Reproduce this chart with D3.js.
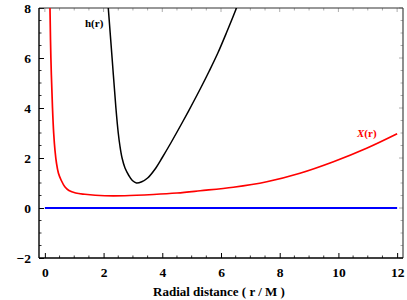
<!DOCTYPE html>
<html>
<head>
<meta charset="utf-8">
<script src="https://cdn.jsdelivr.net/npm/d3@7/dist/d3.min.js"></script>
<style>
  body { margin: 0; background: #fff; }
  svg { display: block; }
</style>
</head>
<body>
<svg></svg>
<script>
// X(r)
var chiR = [0.168, 0.174, 0.205, 0.26, 0.30, 0.345, 0.395, 0.46, 0.56, 0.68, 0.82, 1.05, 1.36, 2.04, 2.72, 3.7, 4.5, 5.29, 6.42, 7.56, 8.69, 9.83, 10.96, 12];
var chiV = [8.4, 8.0, 6.0, 4.0, 3.0, 2.3, 1.8, 1.4, 1.1, 0.85, 0.7, 0.6, 0.55, 0.49, 0.49, 0.54, 0.6, 0.69, 0.83, 1.05, 1.39, 1.85, 2.39, 2.97];

// h(r)
var hR = [2.135, 2.16, 2.29, 2.42, 2.50, 2.555, 2.63, 2.73, 2.86, 2.98, 3.12, 3.3, 3.5, 3.75, 4.0, 4.3, 4.7, 5.0, 5.3, 5.6, 5.9, 6.2, 6.5, 6.6];
var hV = [8.4, 8.0, 6.0, 4.0, 3.0, 2.5, 2.0, 1.6, 1.3, 1.1, 1.0, 1.05, 1.2, 1.55, 2.02, 2.62, 3.46, 4.11, 4.78, 5.48, 6.22, 7.05, 7.92, 8.25];

// zero line
var zeroR = [0, 12];
var zeroV = [0, 0];

var xTicks = [0, 2, 4, 6, 8, 10, 12];
var yTicks = [-2, 0, 2, 4, 6, 8];

var width = 407,
    height = 300;

var serif = '"Liberation Serif", "Times New Roman", "DejaVu Serif", serif';

var pLeft = 39, pRight = 403, pTop = 8, pBottom = 258;

var x = d3.scaleLinear().domain([-0.2, 12.2]).range([pLeft, pRight]);
var y = d3.scaleLinear().domain([-2, 8]).range([pBottom, pTop]);

var svg = d3.select('svg')
    .attr('width', width)
    .attr('height', height);

svg.append('defs').append('clipPath')
    .attr('id', 'clip')
    .append('rect')
    .attr('x', pLeft).attr('y', pTop)
    .attr('width', pRight - pLeft).attr('height', pBottom - pTop);

var minorX = d3.range(0, 12.01, 0.5).filter(function (d) { return d % 2 !== 0; });
var minorY = d3.range(-1.5, 8, 0.5).filter(function (d) { return d % 2 !== 0; });

var frame = svg.append('g');

// bottom & left axes, ticks inward
var xAxis = d3.axisBottom(x).tickValues(xTicks).tickSize(-5).tickPadding(9).tickFormat(d3.format('d'));
var yAxis = d3.axisLeft(y).tickValues(yTicks).tickSize(-5).tickPadding(8)
    .tickFormat(function (d) { return d < 0 ? '\u2212' + (-d) : d; });

var gx = frame.append('g').attr('transform', 'translate(0,' + pBottom + ')').call(xAxis);
var gy = frame.append('g').attr('transform', 'translate(' + pLeft + ',0)').call(yAxis);

[gx, gy].forEach(function (g) {
    g.attr('font-family', serif).attr('font-size', 13.5).attr('font-weight', 'bold');
    g.select('.domain').remove();
    g.selectAll('line').attr('stroke', '#000').attr('stroke-width', 1);
    g.selectAll('text').attr('fill', '#000').attr('font-family', serif).attr('font-weight', 'bold');
});

// minor ticks on bottom/left
frame.append('g').selectAll('line').data(minorX).enter().append('line')
    .attr('x1', function (d) { return x(d); }).attr('x2', function (d) { return x(d); })
    .attr('y1', pBottom).attr('y2', pBottom - 2.5)
    .attr('stroke', '#000').attr('stroke-width', 0.8);
frame.append('g').selectAll('line').data(minorY).enter().append('line')
    .attr('y1', function (d) { return y(d); }).attr('y2', function (d) { return y(d); })
    .attr('x1', pLeft).attr('x2', pLeft + 2.5)
    .attr('stroke', '#000').attr('stroke-width', 0.8);

// top/right ticks, lighter
frame.append('g').selectAll('line').data(xTicks.concat(minorX)).enter().append('line')
    .attr('x1', function (d) { return x(d); }).attr('x2', function (d) { return x(d); })
    .attr('y1', pTop).attr('y2', function (d) { return pTop + (d % 2 === 0 ? 4 : 2.5); })
    .attr('stroke', '#999').attr('stroke-width', 0.8);
frame.append('g').selectAll('line').data(yTicks.concat(minorY)).enter().append('line')
    .attr('y1', function (d) { return y(d); }).attr('y2', function (d) { return y(d); })
    .attr('x1', pRight).attr('x2', function (d) { return pRight - (d % 2 === 0 ? 4 : 2.5); })
    .attr('stroke', '#999').attr('stroke-width', 0.8);

// frame lines
frame.append('line').attr('x1', pLeft).attr('x2', pRight).attr('y1', pTop).attr('y2', pTop)
    .attr('stroke', '#333').attr('stroke-width', 1.2);
frame.append('line').attr('x1', pRight).attr('x2', pRight).attr('y1', pTop).attr('y2', pBottom)
    .attr('stroke', '#444').attr('stroke-width', 1.2);
frame.append('line').attr('x1', pLeft).attr('x2', pRight).attr('y1', pBottom).attr('y2', pBottom)
    .attr('stroke', '#000').attr('stroke-width', 1.4);
frame.append('line').attr('x1', pLeft).attr('x2', pLeft).attr('y1', pTop).attr('y2', pBottom)
    .attr('stroke', '#000').attr('stroke-width', 1.4);

// curves
var line = d3.line()
    .x(function (d) { return x(d[0]); })
    .y(function (d) { return y(d[1]); })
    .curve(d3.curveCatmullRom.alpha(0.5));

var plot = svg.append('g').attr('clip-path', 'url(#clip)');

plot.append('path')
    .datum(d3.zip(zeroR, zeroV))
    .attr('d', line)
    .attr('fill', 'none').attr('stroke', '#0000ff').attr('stroke-width', 2);

plot.append('path')
    .datum(d3.zip(chiR, chiV))
    .attr('d', line)
    .attr('fill', 'none').attr('stroke', '#ff0000').attr('stroke-width', 1.7);

plot.append('path')
    .datum(d3.zip(hR, hV))
    .attr('d', line)
    .attr('fill', 'none').attr('stroke', '#000').attr('stroke-width', 1.5);

// labels
svg.append('text').attr('x', 85).attr('y', 27)
    .attr('font-family', serif).attr('font-weight', 'bold')
    .attr('font-size', 11).attr('fill', '#000')
    .text('h(r)');

var cLab = svg.append('text').attr('x', 357).attr('y', 137)
    .attr('font-family', serif).attr('font-weight', 'bold')
    .attr('font-size', 11).attr('fill', '#ff0000');
cLab.append('tspan').attr('font-style', 'italic').text('X');
cLab.append('tspan').text('(r)');

svg.append('text')
    .attr('x', 219).attr('y', 296)
    .attr('text-anchor', 'middle')
    .attr('font-family', serif).attr('font-weight', 'bold')
    .attr('font-size', 13)
    .text('Radial distance ( r / M )');
</script>
</body>
</html>
